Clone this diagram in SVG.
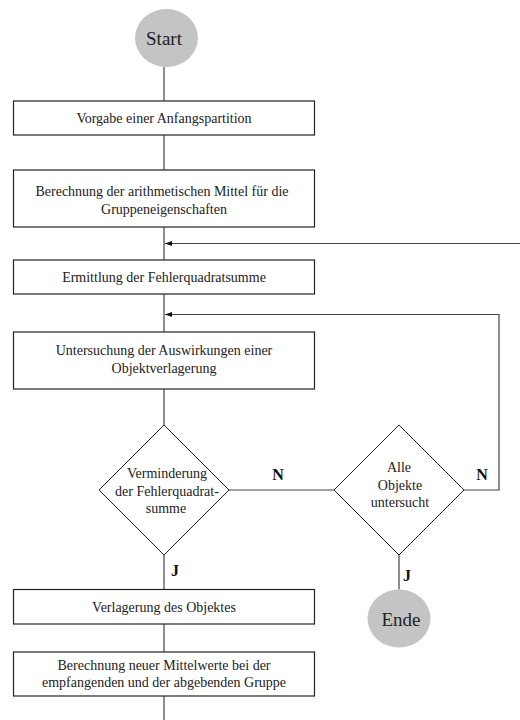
<svg xmlns="http://www.w3.org/2000/svg" width="520" height="720" viewBox="0 0 520 720">
  <defs>
    <marker id="arrow" viewBox="0 0 10 10" refX="10" refY="5" markerWidth="7" markerHeight="7" orient="auto" markerUnits="userSpaceOnUse">
      <path d="M0,1.5 L10,5 L0,8.5 Z" fill="#111"/>
    </marker>
  </defs>
  <style>
    .box { fill: #fff; stroke: #222; stroke-width: 1.2; }
    .dia { fill: #fff; stroke: #222; stroke-width: 1; }
    .term { fill: #c4c4c4; stroke: none; }
    .line { fill: none; stroke: #444; stroke-width: 1.2; }
    text { font-family: 'Liberation Serif', 'DejaVu Serif', serif; fill: #222; text-anchor: middle; }
    .t { font-size: 14px; }
    .tt { font-size: 19px; }
    .lab { font-size: 16px; font-weight: bold; fill: #111; }
  </style>

  <rect width="520" height="720" fill="#fff"/>

  <!-- connectors -->
  <g id="connectors">
    <line class="line" x1="164" y1="67" x2="164" y2="101"/>
    <line class="line" x1="164" y1="135" x2="164" y2="170"/>
    <line class="line" x1="164" y1="227" x2="164" y2="260"/>
    <line class="line" x1="520" y1="243.5" x2="165" y2="243.5" marker-end="url(#arrow)"/>
    <line class="line" x1="164" y1="294" x2="164" y2="332"/>
    <polyline class="line" points="464,490 499,490 499,314.5 165,314.5" marker-end="url(#arrow)"/>
    <line class="line" x1="164" y1="389" x2="164" y2="425"/>
    <line class="line" x1="229" y1="490" x2="334" y2="490"/>
    <line class="line" x1="164" y1="555" x2="164" y2="589.5"/>
    <line class="line" x1="399" y1="555" x2="399" y2="589.5"/>
    <line class="line" x1="164" y1="624" x2="164" y2="652"/>
    <line class="line" x1="164" y1="696" x2="164" y2="720"/>
    <text class="lab" x="278" y="480">N</text>
    <text class="lab" x="482" y="480">N</text>
    <text class="lab" x="175" y="576">J</text>
    <text class="lab" x="407" y="581">J</text>
  </g>

  <g id="start">
    <ellipse class="term" cx="166.5" cy="38" rx="31.5" ry="29"/>
    <text class="tt" x="164" y="45">Start</text>
  </g>

  <g id="anfangspartition">
    <rect class="box" x="13.5" y="101" width="301" height="34"/>
    <text class="t" x="164" y="123">Vorgabe einer Anfangspartition</text>
  </g>

  <g id="mittel">
    <rect class="box" x="13.5" y="170" width="301" height="57"/>
    <text class="t" x="162" y="196">Berechnung der arithmetischen Mittel für die</text>
    <text class="t" x="164" y="213.5">Gruppeneigenschaften</text>
  </g>

  <g id="fehlerquadratsumme">
    <rect class="box" x="13.5" y="260" width="301" height="34"/>
    <text class="t" x="164" y="282">Ermittlung der Fehlerquadratsumme</text>
  </g>

  <g id="untersuchung">
    <rect class="box" x="13.5" y="332" width="301" height="57"/>
    <text class="t" x="164" y="355">Untersuchung der Auswirkungen einer</text>
    <text class="t" x="164" y="373">Objektverlagerung</text>
  </g>

  <g id="verminderung">
    <polygon class="dia" points="164,425 229,490 164,555 99,490"/>
    <text class="t" x="167" y="477.5">Verminderung</text>
    <text class="t" x="167" y="495.5">der Fehlerquadrat-</text>
    <text class="t" x="166" y="513">summe</text>
  </g>

  <g id="alle-objekte">
    <polygon class="dia" points="399,425 464,490 399,555 334,490"/>
    <text class="t" x="399" y="471.5">Alle</text>
    <text class="t" x="400" y="489.5">Objekte</text>
    <text class="t" x="400" y="506.5">untersucht</text>
  </g>

  <g id="verlagerung">
    <rect class="box" x="13.5" y="589.5" width="301" height="34.5"/>
    <text class="t" x="164" y="611.5">Verlagerung des Objektes</text>
  </g>

  <g id="neue-mittelwerte">
    <rect class="box" x="13.5" y="652" width="301" height="44"/>
    <text class="t" x="164" y="669.5">Berechnung neuer Mittelwerte bei der</text>
    <text class="t" x="164" y="687">empfangenden und der abgebenden Gruppe</text>
  </g>

  <g id="ende">
    <ellipse class="term" cx="399" cy="618.5" rx="31.5" ry="29"/>
    <text class="tt" x="401" y="626">Ende</text>
  </g>
</svg>
